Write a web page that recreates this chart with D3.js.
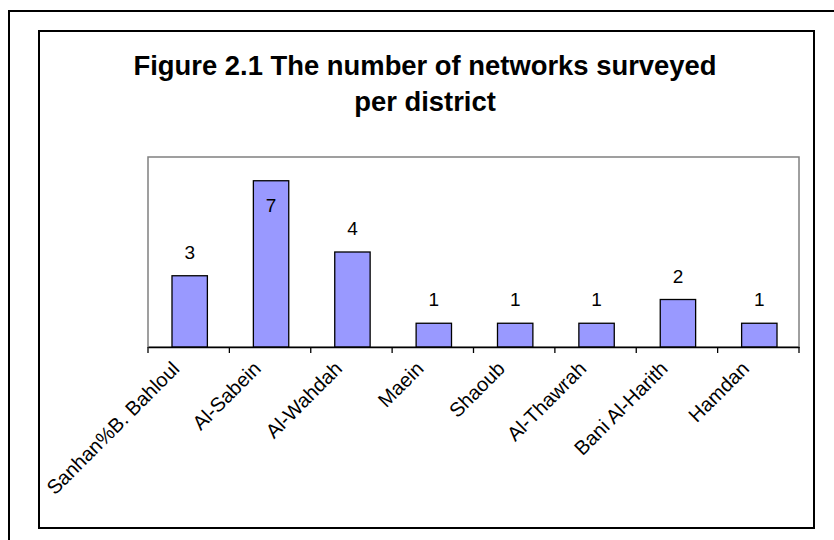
<!DOCTYPE html>
<html>
<head>
<meta charset="utf-8">
<script src="https://cdn.jsdelivr.net/npm/d3@7"></script>
<style>
  html, body { margin: 0; padding: 0; background: #fff; }
  svg { display: block; }
</style>
</head>
<body>
<svg id="chart" width="834" height="540"></svg>
<script>
// Networks surveyed per district
const districts = ["Sanhan%B. Bahloul", "Al-Sabein", "Al-Wahdah", "Maein", "Shaoub", "Al-Thawrah", "Bani Al-Harith", "Hamdan"];
const networkCounts = [3, 7, 4, 1, 1, 1, 2, 1];
const titleLines = ["Figure 2.1 The number of networks surveyed", "per district"];

const svg = d3.select("#chart");
const font = "Arial, 'Liberation Sans', Helvetica, sans-serif";

// Outer page frame and chart frame
svg.append("rect").attr("x", 9).attr("y", 11).attr("width", 840).attr("height", 540)
  .attr("fill", "none").attr("stroke", "#000").attr("stroke-width", 2);
svg.append("rect").attr("x", 39).attr("y", 31).attr("width", 775).attr("height", 497)
  .attr("fill", "#fff").attr("stroke", "#000").attr("stroke-width", 2);

// Title
svg.append("text")
  .attr("x", 425).attr("y", 75)
  .attr("text-anchor", "middle")
  .attr("font-family", font).attr("font-weight", "bold").attr("font-size", 27.4)
  .selectAll("tspan").data(titleLines).join("tspan")
  .attr("x", 425).attr("dy", (d, i) => i === 0 ? 0 : 36)
  .text(d => d);

const plot = { left: 148, top: 157, right: 799, bottom: 347 };

const x = d3.scaleBand().domain(districts).range([plot.left, plot.right]).paddingInner(0).paddingOuter(0);
const y = d3.scaleLinear().domain([0, 8]).range([plot.bottom, plot.top]);

// Plot area border
svg.append("rect")
  .attr("x", plot.left).attr("y", plot.top)
  .attr("width", plot.right - plot.left).attr("height", plot.bottom - plot.top)
  .attr("fill", "none").attr("stroke", "#808080").attr("stroke-width", 1.5);

const barW = x.bandwidth() / 2.3;
const data = districts.map((d, i) => ({ district: d, value: networkCounts[i] }));

// Bars
svg.append("g").selectAll("rect").data(data).join("rect")
  .attr("x", d => x(d.district) + (x.bandwidth() - barW) / 2 + 1)
  .attr("y", d => y(d.value))
  .attr("width", barW)
  .attr("height", d => y(0) - y(d.value))
  .attr("fill", "#9999FF")
  .attr("stroke", "#000").attr("stroke-width", 1.3);

// Category axis line
const axis = svg.append("g")
  .attr("transform", `translate(0,${plot.bottom})`)
  .call(d3.axisBottom(x).tickSize(6).tickSizeOuter(0).tickFormat(""));
axis.select(".domain").attr("stroke", "#000").attr("stroke-width", 1.5);
axis.selectAll(".tick").remove();

// Tick marks at category boundaries
const bounds = districts.map(d => x(d)).concat([plot.right]);
svg.append("g").selectAll("line").data(bounds).join("line")
  .attr("x1", d => d).attr("x2", d => d)
  .attr("y1", plot.bottom).attr("y2", plot.bottom + 6)
  .attr("stroke", "#000").attr("stroke-width", 1.3);

// Rotated category labels
svg.append("g").selectAll("text").data(districts).join("text")
  .attr("transform", d => `translate(${x(d) + x.bandwidth() / 2 - 8},${plot.bottom + 23}) rotate(-45)`)
  .attr("text-anchor", "end")
  .attr("font-family", font).attr("font-size", 20)
  .text(d => d);

// Value labels; a label that would run past the plot top sits inside its bar
svg.append("g").selectAll("text").data(data).join("text")
  .attr("x", d => x(d.district) + x.bandwidth() / 2 + 1)
  .attr("y", d => {
    const above = y(d.value) - 17;
    return above - 13 < plot.top ? y(d.value) + 31 : above;
  })
  .attr("text-anchor", "middle")
  .attr("font-family", font).attr("font-size", 19)
  .text(d => d.value);
</script>
</body>
</html>
